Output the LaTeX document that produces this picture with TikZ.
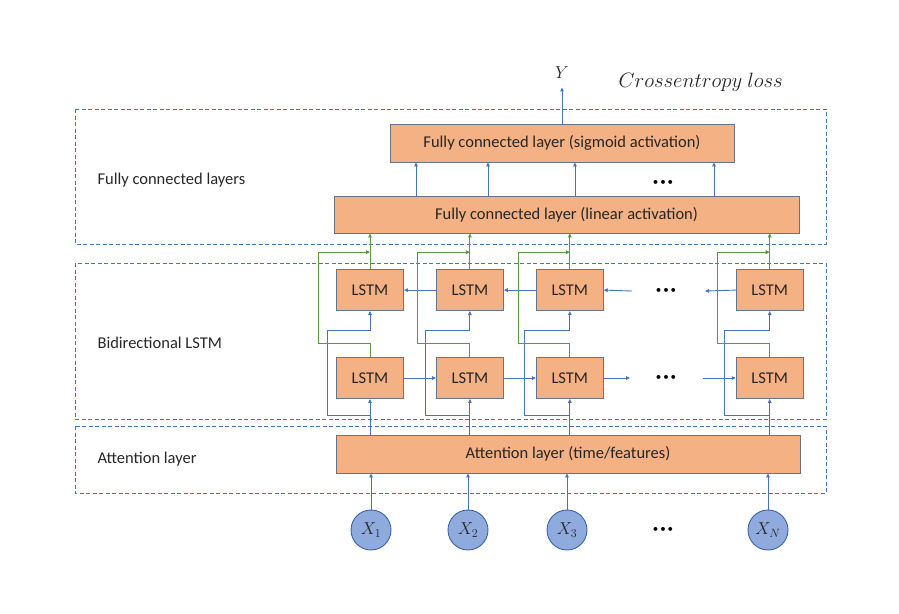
\documentclass[tikz,border=0pt]{standalone}
\usepackage{fontspec}
\setmainfont{Carlito}
\usetikzlibrary{arrows.meta,positioning}

\definecolor{boxfill}{HTML}{F4B183}
\definecolor{boxedge}{HTML}{6A7385}
\definecolor{lineblue}{HTML}{4472C4}
\definecolor{linegreen}{HTML}{5B9A3C}
\definecolor{infill}{HTML}{8FAADC}
\definecolor{inedge}{HTML}{3A62A8}
\definecolor{ink}{HTML}{262626}

\begin{document}
\begin{tikzpicture}[x=1pt, y=-1pt, font=\fontsize{16.5}{19}\selectfont, text=ink,
    block/.style = {draw=boxedge, fill=boxfill, line width=0.9pt, inner sep=2pt},
    lstm/.style = {block, minimum width=67pt, minimum height=41pt},
    xin/.style = {circle, draw=inedge, fill=infill, line width=0.9pt, minimum size=40pt, inner sep=0pt},
    layerbox/.style = {draw=lineblue, line width=0.7pt, dash pattern=on 4pt off 2.5pt},
    bline/.style = {draw=lineblue, line width=0.9pt, -{Triangle[length=4pt,width=3.6pt]}},
    gline/.style = {draw=linegreen, line width=0.9pt},
    dots/.style = {font=\fontsize{11}{13}\selectfont, text=black}]
        \useasboundingbox (0,0) rectangle (899,613);
        % layer frames
        \draw[layerbox] (75,109) rectangle (826,244);
        \draw[layerbox] (75,263) rectangle (826,419);
        \draw[layerbox] (75,426) rectangle (826,493);
        \node[anchor=west] (t1) at (94,180) {Fully connected layers};
        \node[anchor=west] (t2) at (94,343) {Bidirectional LSTM};
        \node[anchor=west] (t3) at (94,459) {Attention layer};

        % blocks
        \node[lstm] (l1) at (370,378) {LSTM};
        \node[lstm] (l2) [right=32pt of l1] {LSTM};
        \node[lstm] (l3) [right=32pt of l2] {LSTM};
        \node[lstm] (l4) [right=132pt of l3] {LSTM};
        \node[lstm] (u1) [above=46pt of l1] {LSTM};
        \node[lstm] (u2) [above=46pt of l2] {LSTM};
        \node[lstm] (u3) [above=46pt of l3] {LSTM};
        \node[lstm] (u4) [above=46pt of l4] {LSTM};
        \node[block, minimum width=464pt, minimum height=38pt] (att) at (568,454) {Attention layer (time/features)};
        \node[block, minimum width=465pt, minimum height=37pt] (fc1) at (566.5,214.5) {Fully connected layer (linear activation)};
        \node[block, minimum width=344pt, minimum height=38pt] (fc2) at (562,143) {Fully connected layer (sigmoid activation)};
        \node[xin] (x1) at (371,530) {$X_1$};
        \node[xin] (x2) at (468,530) {$X_2$};
        \node[xin] (x3) at (567,530) {$X_3$};
        \node[xin] (x4) at (768,530) {$X_N$};
        \node[dots] (d0) at (663,530) {\textbullet\,\textbullet\,\textbullet};
        \node[dots] (d1) at (666,378) {\textbullet\,\textbullet\,\textbullet};
        \node[dots] (d2) at (666,291) {\textbullet\,\textbullet\,\textbullet};
        \node[dots] (d3) at (663,183) {\textbullet\,\textbullet\,\textbullet};
        \node (y) at (562,73) {$Y$};
        \node[anchor=west] (loss) at (615,82) {\fontsize{22.5}{26}\selectfont$Crossentropy~loss$};

        % inputs
        \draw[bline] (x1.north) -- (x1 |- att.south);
        \draw[bline] (x2.north) -- (x2 |- att.south);
        \draw[bline] (x3.north) -- (x3 |- att.south);
        \draw[bline] (x4.north) -- (x4 |- att.south);
        \draw[bline] (l1 |- att.north) -- (l1.south);
        \draw[bline] (l2 |- att.north) -- (l2.south);
        \draw[bline] (l3 |- att.north) -- (l3.south);
        \draw[bline] (l4 |- att.north) -- (l4.south);
        \draw[bline] ([yshift=-16pt]l1.south) -- ++(-43pt,0) |- ([yshift=-19pt]u1.south) -- (u1.south);
        \draw[bline] ([yshift=-16pt]l2.south) -- ++(-44pt,0) |- ([yshift=-19pt]u2.south) -- (u2.south);
        \draw[bline] ([yshift=-16pt]l3.south) -- ++(-45pt,0) |- ([yshift=-19pt]u3.south) -- (u3.south);
        \draw[bline] ([yshift=-16pt]l4.south) -- ++(-45pt,0) |- ([yshift=-19pt]u4.south) -- (u4.south);

        % recurrent links
        \draw[bline] (l1.east) -- (l2.west);
        \draw[bline] (l2.east) -- (l3.west);
        \draw[bline] (l3.east) -- ([xshift=-36pt]d1.center);
        \draw[bline] ([xshift=37pt]d1.center) -- (l4.west);
        \draw[bline] (u2.west) -- (u1.east);
        \draw[bline] (u3.west) -- (u2.east);
        \draw[bline] ([xshift=-34pt]d2.center) -- (u3.east);
        \draw[bline] (u4.west) -- ([xshift=39pt]d2.center);

        % forward outputs
        \draw[gline] (l1.north) -- ([yshift=14pt]l1.north) -| ([xshift=-52pt,yshift=17pt]u1.north) edge[-{Triangle[length=4pt,width=3.6pt]}] ([yshift=17pt]u1.north);
        \draw[gline] (l2.north) -- ([yshift=14pt]l2.north) -| ([xshift=-52pt,yshift=17pt]u2.north) edge[-{Triangle[length=4pt,width=3.6pt]}] ([yshift=17pt]u2.north);
        \draw[gline] (l3.north) -- ([yshift=14pt]l3.north) -| ([xshift=-51pt,yshift=17pt]u3.north) edge[-{Triangle[length=4pt,width=3.6pt]}] ([yshift=17pt]u3.north);
        \draw[gline] (l4.north) -- ([yshift=14pt]l4.north) -| ([xshift=-52pt,yshift=17pt]u4.north) edge[-{Triangle[length=4pt,width=3.6pt]}] ([yshift=17pt]u4.north);
        \draw[gline, -{Triangle[length=4pt,width=3.6pt]}] (u1.north) -- (u1 |- fc1.south);
        \draw[gline, -{Triangle[length=4pt,width=3.6pt]}] (u2.north) -- (u2 |- fc1.south);
        \draw[gline, -{Triangle[length=4pt,width=3.6pt]}] (u3.north) -- (u3 |- fc1.south);
        \draw[gline, -{Triangle[length=4pt,width=3.6pt]}] (u4.north) -- (u4 |- fc1.south);

        % dense layers
        \draw[bline] ([xshift=-146pt]fc2.south |- fc1.north) -- ([xshift=-146pt]fc2.south);
        \draw[bline] ([xshift=-74pt]fc2.south |- fc1.north) -- ([xshift=-74pt]fc2.south);
        \draw[bline] ([xshift=13pt]fc2.south |- fc1.north) -- ([xshift=13pt]fc2.south);
        \draw[bline] ([xshift=152pt]fc2.south |- fc1.north) -- ([xshift=152pt]fc2.south);
        \draw[bline] (fc2.north) -- ([yshift=-5pt]y.south);
    \end{tikzpicture}
\end{document}
